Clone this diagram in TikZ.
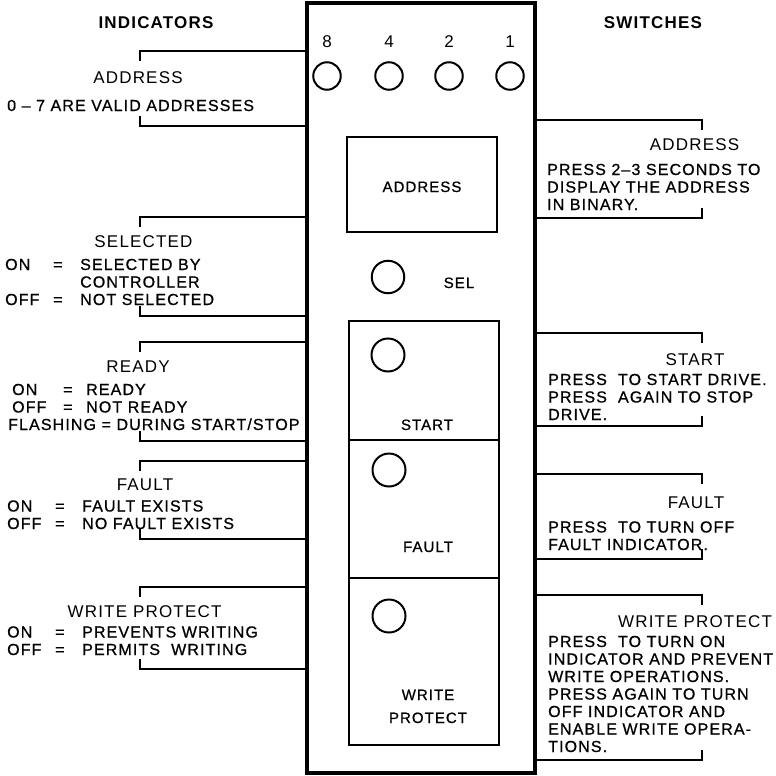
\documentclass[tikz,border=0pt]{standalone}
\usepackage{fontspec}
\setmainfont{Liberation Sans}[LetterSpace=7]
\newfontfamily\heavyfont{Liberation Sans}[LetterSpace=7,FakeBold=0.8]
\usepackage{tikz}
\usetikzlibrary{positioning}
\newcommand{\eqrow}[2]{\makebox[48pt][l]{#1}\makebox[27pt][l]{=}#2}
\tikzset{
  panelbox/.style={draw,line width=4.5pt,minimum width=228pt,minimum height=770pt,inner sep=0pt},
  keybox/.style={draw,line width=2.2pt,minimum width=150pt,inner sep=0pt},
  led/.style={circle,draw,line width=2pt,inner sep=0pt},
  brk/.style={line width=2pt},
  head/.style={font=\fontsize{17}{20}\selectfont\bfseries,inner sep=0pt},
  title/.style={font=\fontsize{17}{20}\selectfont,inner sep=0pt},
  body/.style={font=\fontsize{16}{17.5}\selectfont\heavyfont,inner sep=0pt,align=left,anchor=base west},
  keytext/.style={font=\fontsize{15}{23}\selectfont\heavyfont,inner sep=0pt,align=center},
}

\begin{document}
\begin{tikzpicture}[x=1pt,y=-1pt]
        \useasboundingbox (0,0) rectangle (776,776);
        % front panel
        \node[panelbox] (panel) at (421,388) {};
        \node[head,anchor=base] (ind) at (156,29) {INDICATORS};
        \node[head,anchor=base] (sw) at (653,29) {SWITCHES};
        % address leds
        \foreach \x/\n in {327/8,389/4,449/2,510/1} {
          \node[title,anchor=base] (bit\n) at (\x,48) {\n};
          \node[led,minimum size=27.5pt] (led\n) at (\x,76) {};
        }
        \node[keybox,minimum height=95pt] (addrkey) at (422,184.5) {};
        \node[keytext,anchor=base] (addrlbl) at (422,192) {ADDRESS};
        \node[led,minimum size=32.5pt] (selled) at (388,277) {};
        \node[keytext,anchor=base] (sellbl) at (459,288) {SEL};
        % switch keys
        \node[keybox,minimum height=119pt] (startkey) at (424,380.5) {};
        \node[keybox,minimum height=138pt] (faultkey) at (424,509) {};
        \node[keybox,minimum height=167pt] (wpkey) at (424,661.5) {};
        \node[led,minimum size=33pt] (startled) at (388,355) {};
        \node[led,minimum size=33pt] (faultled) at (389,470) {};
        \node[led,minimum size=33pt] (wpled) at (389,616) {};
        \node[keytext,anchor=base] (startlbl) at (427,430) {START};
        \node[keytext,anchor=base] (faultlbl) at (428,552) {FAULT};
        \node[keytext,anchor=base] (wplbl) at (428,723) {WRITE\\PROTECT};
        % brackets
        \foreach \t/\b in {51/126,217/316,342/441,461/539,587/669} {
          \draw[brk] (140,\t+10) -- (140,\t) -- (306,\t);
          \draw[brk] (140,\b-10) -- (140,\b) -- (306,\b);
        }
        \foreach \t/\b in {120/218,333/426,474/559,595/760} {
          \draw[brk] (536,\t) -- (702,\t) -- (702,\t+10);
          \draw[brk] (536,\b) -- (702,\b) -- (702,\b-10);
        }
        % indicators
        \node[title,anchor=base] (iaddr) at (138,83) {ADDRESS};
        \node[body] (iaddrtxt) at (7,111) {0 – 7 ARE VALID ADDRESSES};
        \node[title,anchor=base] (isel) at (143.5,247) {SELECTED};
        \node[body] (iseltxt) at (5,305) {\eqrow{ON}{SELECTED BY}\\
          \hspace*{75pt}CONTROLLER\\\eqrow{OFF}{NOT SELECTED}};
        \node[title,anchor=base] (irdy) at (138,372) {READY};
        \node[body] (irdytxt) at (8,430) {\hspace*{4pt}\makebox[51pt][l]{ON}\makebox[23pt][l]{=}READY\\
          \hspace*{4pt}\makebox[51pt][l]{OFF}\makebox[23pt][l]{=}NOT READY\\FLASHING = DURING START/STOP};
        \node[title,anchor=base] (iflt) at (145,490) {FAULT};
        \node[body] (iflttxt) at (7,529) {\eqrow{ON}{FAULT EXISTS}\\\eqrow{OFF}{NO FAULT EXISTS}};
        \node[title,anchor=base] (iwp) at (144.5,617) {WRITE PROTECT};
        \node[body] (iwptxt) at (7,655) {\eqrow{ON}{PREVENTS WRITING}\\\eqrow{OFF}{PERMITS\ \ WRITING}};
        % switches
        \node[title,anchor=base] (saddr) at (694.5,150) {ADDRESS};
        \node[body] (saddrtxt) at (547,210) {PRESS 2–3 SECONDS TO\\DISPLAY THE ADDRESS\\IN BINARY.};
        \node[title,anchor=base] (sstart) at (695,365) {START};
        \node[body] (sstarttxt) at (548,420) {PRESS\ \ TO START DRIVE.\\PRESS\ \ AGAIN TO STOP\\DRIVE.};
        \node[title,anchor=base] (sflt) at (696,508) {FAULT};
        \node[body] (sflttxt) at (548,550) {PRESS\ \ TO TURN OFF\\FAULT INDICATOR.};
        \node[title,anchor=base] (swp) at (695,627) {WRITE PROTECT};
        \node[body] (swptxt) at (548,752) {PRESS\ \ TO TURN ON\\INDICATOR AND PREVENT\\WRITE OPERATIONS.\\
          PRESS AGAIN TO TURN\\OFF INDICATOR AND\\ENABLE WRITE OPERA-\\TIONS.};
      \end{tikzpicture}
\end{document}
